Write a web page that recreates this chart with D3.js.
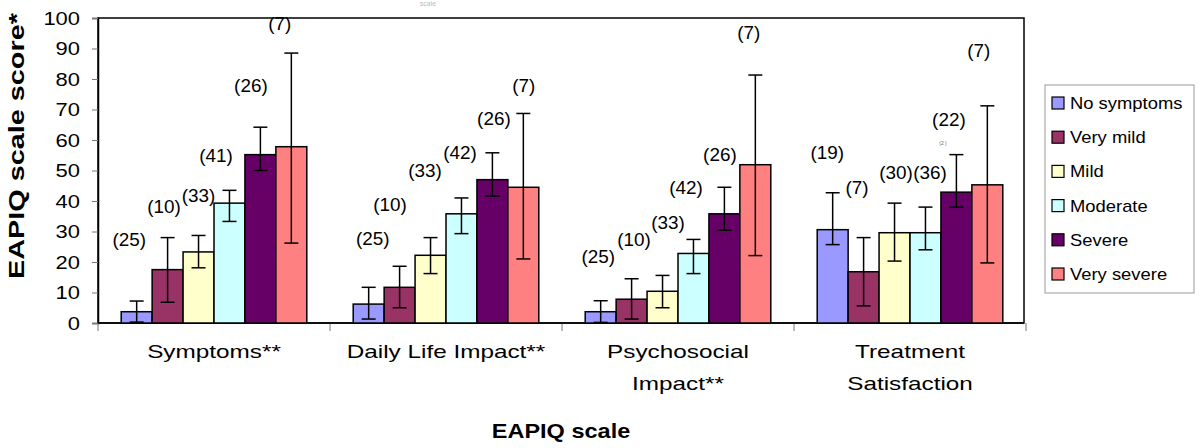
<!DOCTYPE html>
<html><head><meta charset="utf-8">
<script src="https://cdn.jsdelivr.net/npm/d3@7"></script>
<style>
body{margin:0;background:#fff;}
text{font-family:"Liberation Sans",Arial,sans-serif;}
</style></head>
<body><svg id="chart" width="1200" height="448"></svg>
<script>
// ---- data ----
const categories = ["Symptoms**", "Daily Life Impact**", "Psychosocial\nImpact**", "Treatment\nSatisfaction"];
const seriesNames = ["No symptoms", "Very mild", "Mild", "Moderate", "Severe", "Very severe"];
const seriesColors = ["#9999FF", "#993366", "#FFFFCC", "#CCFFFF", "#660066", "#FF8080"];
const yTicks = [0, 10, 20, 30, 40, 50, 60, 70, 80, 90, 100];

// mean scores per series (one value per category)
const meanNoSymptoms = [3.7, 6.2, 3.7, 30.6];
const meanVeryMild   = [17.5, 11.7, 7.8, 16.8];
const meanMild       = [23.3, 22.2, 10.4, 29.6];
const meanModerate   = [39.3, 35.8, 22.8, 29.6];
const meanSevere     = [55.2, 47.0, 35.8, 42.9];
const meanVerySevere = [57.8, 44.5, 51.9, 45.3];

// error bar bounds
const lowNoSymptoms = [0.3, 1.3, 0.2, 25.7];
const lowVeryMild   = [6.8, 5.0, 1.3, 5.6];
const lowMild       = [18.1, 16.2, 5.0, 20.3];
const lowModerate   = [33.3, 29.3, 16.2, 24.0];
const lowSevere     = [50.0, 41.6, 30.4, 38.0];
const lowVerySevere = [26.2, 21.0, 22.1, 19.7];

const highNoSymptoms = [7.2, 11.7, 7.3, 42.7];
const highVeryMild   = [28.0, 18.6, 14.5, 28.0];
const highMild       = [28.7, 28.0, 15.6, 39.3];
const highModerate   = [43.5, 41.0, 27.4, 38.0];
const highSevere     = [64.2, 55.8, 44.5, 55.2];
const highVerySevere = [88.5, 68.7, 81.3, 71.2];

// sample sizes (n) per series
const nNoSymptoms = [25, 25, 25, 19];
const nVeryMild   = [10, 10, 10, 7];
const nMild       = [33, 33, 33, 30];
const nModerate   = [41, 42, 42, 36];
const nSevere     = [26, 26, 26, 22];
const nVerySevere = [7, 7, 7, 7];

// height (in score units) at which each n label sits
const nLabelAtNoSymptoms = [27.1, 27.4, 21.6, 55.6];
const nLabelAtVeryMild   = [37.9, 38.6, 27.1, 44.1];
const nLabelAtMild       = [41.8, 49.8, 32.8, 49.3];
const nLabelAtModerate   = [54.9, 55.6, 44.1, 49.3];
const nLabelAtSevere     = [77.8, 67.0, 55.2, 66.7];
const nLabelAtVerySevere = [98.0, 77.8, 95.1, 89.2];

const means = [meanNoSymptoms, meanVeryMild, meanMild, meanModerate, meanSevere, meanVerySevere];
const lows = [lowNoSymptoms, lowVeryMild, lowMild, lowModerate, lowSevere, lowVerySevere];
const highs = [highNoSymptoms, highVeryMild, highMild, highModerate, highSevere, highVerySevere];
const ns = [nNoSymptoms, nVeryMild, nMild, nModerate, nSevere, nVerySevere];
const nAt = [nLabelAtNoSymptoms, nLabelAtVeryMild, nLabelAtMild, nLabelAtModerate, nLabelAtSevere, nLabelAtVerySevere];

// ---- layout (styling only) ----
const labelNudge = [[-7.5, 4, -2.5, -5.5], [-3.5, -9.5, 2.5, -6.5], [0, -5.5, 5.5, 1.5],
                    [-13.5, -1.5, -7.5, 4.5], [-9.5, 1.5, -4.5, -7.5], [-11.5, 0.5, -6.5, -8.5]];
const M = {left: 98, right: 1024, top: 18, bottom: 323};

const svg = d3.select("#chart");
const x = d3.scaleBand().domain(categories).range([M.left, M.right + 2]);
const xs = d3.scaleBand().domain(seriesNames).range([0, x.bandwidth()]).paddingOuter(0.75);
const y = d3.scaleLinear().domain([0, 100]).range([M.bottom, M.top]);

function stretchText(sel, px, py, sx, rot) {
  sel.attr("x", 0).attr("y", 0)
     .attr("transform", `translate(${px},${py})` + (rot ? ` rotate(${rot})` : "") + ` scale(${sx},1)`);
  return sel;
}

// faint small text at top
svg.append("text").attr("x", 428).attr("y", 6).attr("text-anchor", "middle")
   .attr("font-size", 7).attr("fill", "#bbb").text("scale");

// plot frame
svg.append("rect").attr("x", M.left).attr("y", M.top)
   .attr("width", M.right - M.left).attr("height", M.bottom - M.top)
   .attr("fill", "none").attr("stroke", "#000").attr("stroke-width", 1.5);

// y axis
const yAxis = svg.append("g").attr("transform", `translate(${M.left},0)`)
  .call(d3.axisLeft(y).tickValues(yTicks).tickSize(6).tickPadding(0).tickFormat(d3.format("d")));
yAxis.select(".domain").attr("stroke", "#000").attr("stroke-width", 1.5);
yAxis.selectAll(".tick line").attr("stroke", "#777");
yAxis.selectAll(".tick text").each(function(d) {
  const t = d3.select(this);
  t.attr("font-size", 18).attr("fill", "#000").attr("text-anchor", "end").attr("dy", "0.35em")
   .style("font-family", '"Liberation Sans",Arial,sans-serif');
  stretchText(t, -18, 0, 1.22);
});

// x axis ticks at category boundaries
const bounds = categories.map(c => x(c)).concat([x(categories[categories.length - 1]) + x.bandwidth()]);
svg.selectAll(".xtick").data(bounds).enter().append("line")
   .attr("x1", d => d).attr("x2", d => d).attr("y1", M.bottom).attr("y2", M.bottom + 8)
   .attr("stroke", "#777").attr("stroke-width", 1);
svg.append("line").attr("x1", M.left).attr("x2", M.right).attr("y1", M.bottom).attr("y2", M.bottom)
   .attr("stroke", "#000").attr("stroke-width", 1.5);

// bars
const flat = [];
seriesNames.forEach((s, si) => categories.forEach((c, ci) => {
  flat.push({s, si, c, ci, v: means[si][ci], lo: lows[si][ci], hi: highs[si][ci], n: ns[si][ci], at: nAt[si][ci]});
}));
const cx = d => x(d.c) + xs(d.s) + xs.bandwidth() / 2;

svg.selectAll(".bar").data(flat).enter().append("rect")
   .attr("x", d => x(d.c) + xs(d.s)).attr("y", d => y(d.v))
   .attr("width", xs.bandwidth()).attr("height", d => y(0) - y(d.v))
   .attr("fill", d => seriesColors[d.si]).attr("stroke", "#000").attr("stroke-width", 1.5);

// error bars
const eb = svg.selectAll(".err").data(flat).enter().append("g");
eb.append("line").attr("x1", cx).attr("x2", cx).attr("y1", d => y(d.lo)).attr("y2", d => y(d.hi))
  .attr("stroke", "#000").attr("stroke-width", 1.5);
eb.append("line").attr("x1", d => cx(d) - 7).attr("x2", d => cx(d) + 7).attr("y1", d => y(d.hi)).attr("y2", d => y(d.hi))
  .attr("stroke", "#000").attr("stroke-width", 1.5);
eb.append("line").attr("x1", d => cx(d) - 7).attr("x2", d => cx(d) + 7).attr("y1", d => y(d.lo)).attr("y2", d => y(d.lo))
  .attr("stroke", "#000").attr("stroke-width", 1.5);

// n labels
svg.selectAll(".nlab").data(flat).enter().append("text")
   .attr("font-size", 18).attr("text-anchor", "middle").attr("fill", "#000")
   .text(d => `(${d.n})`)
   .each(function(d) { stretchText(d3.select(this), cx(d) + labelNudge[d.si][d.ci], y(d.at) + 6, 1.05); });

// tiny stray annotation
svg.append("text").attr("x", 943).attr("y", 145).attr("text-anchor", "middle")
   .attr("font-size", 5).attr("fill", "#666").text("(2 )");

// category labels
categories.forEach(c => {
  const lines = c.split("\n");
  lines.forEach((ln, i) => {
    const t = svg.append("text").attr("font-size", 19).attr("text-anchor", "middle").attr("fill", "#000").text(ln);
    stretchText(t, x(c) + x.bandwidth() / 2, 358 + i * 32, 1.28);
  });
});

// axis titles
const xt = svg.append("text").attr("font-size", 21).attr("font-weight", "bold").attr("text-anchor", "middle").text("EAPIQ scale");
stretchText(xt, 561, 438, 1.12);
const yt = svg.append("text").attr("font-size", 22).attr("font-weight", "bold").attr("text-anchor", "middle").text("EAPIQ scale score*");
stretchText(yt, 24, 146, 1.31, -90);

// legend
svg.append("rect").attr("x", 1045).attr("y", 85).attr("width", 149).attr("height", 208)
   .attr("fill", "#fff").attr("stroke", "#999").attr("stroke-width", 1);
const lg = svg.selectAll(".lg").data(seriesNames).enter().append("g")
   .attr("transform", (d, i) => `translate(1052,${103 + i * 34.2})`);
lg.append("rect").attr("x", 0).attr("y", -6).attr("width", 12).attr("height", 12)
  .attr("fill", (d, i) => seriesColors[i]).attr("stroke", "#000").attr("stroke-width", 1.2);
lg.append("text").attr("font-size", 16).attr("fill", "#000").text(d => d)
  .each(function() { stretchText(d3.select(this), 18, 6, 1.15); });
</script></body></html>
